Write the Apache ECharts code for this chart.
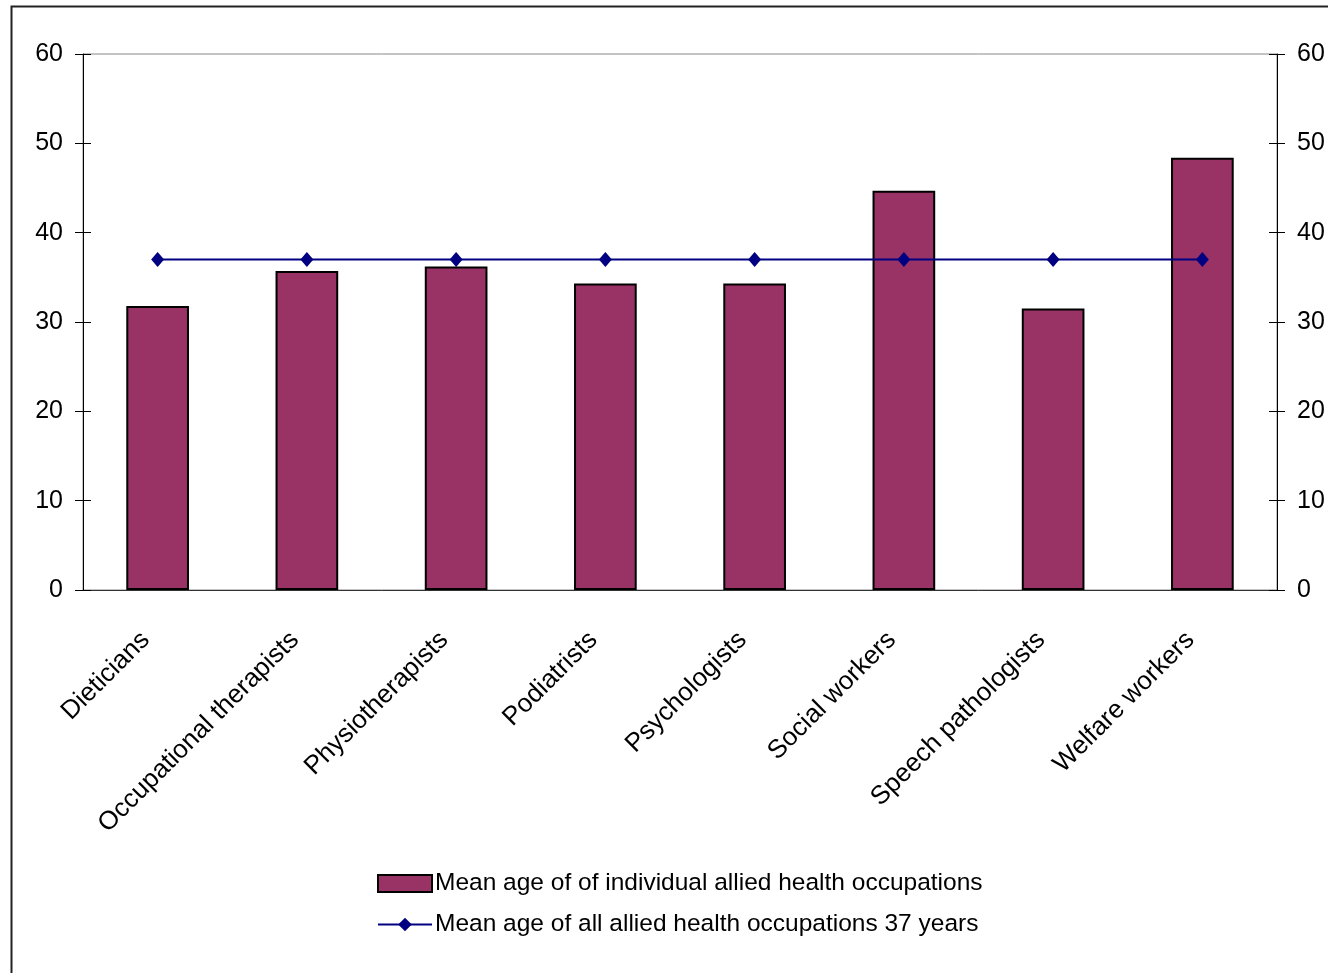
<!DOCTYPE html>
<html style="height: 100%">
<head>
    <meta charset="utf-8">
</head>
<body style="height: 100%; margin: 0">
    <div id="container" style="width: 1328px; height: 973px;"></div>
    <script type="text/javascript" src="https://cdn.jsdelivr.net/npm/echarts@6/dist/echarts.min.js"></script>
    <script type="text/javascript">
        var categories = ['Dieticians', 'Occupational therapists', 'Physiotherapists', 'Podiatrists',
            'Psychologists', 'Social workers', 'Speech pathologists', 'Welfare workers'];
        var meanAgeEach = [31.8, 35.7, 36.2, 34.3, 34.3, 44.7, 31.5, 48.4];
        var meanAgeAll = [37, 37, 37, 37, 37, 37, 37, 37];
        var yMin = 0, yMax = 60, yStep = 10;

        var dom = document.getElementById("container");
        var myChart = echarts.init(dom);
        var font = 'Liberation Sans, Arial, sans-serif';

        function yAxisDef(pos, inside, labels) {
            return {
                type: 'value',
                position: pos,
                min: yMin,
                max: yMax,
                interval: yStep,
                splitLine: { show: false },
                axisLine: { show: !inside, lineStyle: { color: '#000', width: 1 } },
                axisTick: { show: true, inside: inside, length: 8, lineStyle: { color: '#000' } },
                axisLabel: {
                    show: labels, margin: 20, color: '#000', fontSize: 25, fontFamily: font
                }
            };
        }

        var option = {
            animation: false,
            backgroundColor: '#fff',
            grid: {
                left: 83, right: 51, top: 54, bottom: 383,
                show: true, borderColor: '#888', borderWidth: 1
            },
            graphic: [{
                type: 'rect',
                shape: { x: 11.5, y: 6.5, width: 1400, height: 1100 },
                style: { fill: 'none', stroke: '#222', lineWidth: 2 },
                silent: true
            }],
            legend: {
                orient: 'vertical',
                left: 372,
                top: 866,
                itemGap: 16,
                itemWidth: 54,
                itemHeight: 17,
                textStyle: { color: '#000', fontSize: 24.5, fontFamily: font, padding: [0, 0, 0, -2] },
                data: [
                    { name: 'Mean age of of individual allied health occupations', icon: 'rect' },
                    { name: 'Mean age of all allied health occupations 37 years' }
                ]
            },
            xAxis: [{
                type: 'category',
                data: categories,
                axisLine: { lineStyle: { color: '#333', width: 1 } },
                axisTick: { length: 8, lineStyle: { color: '#000' } },
                axisLabel: {
                    rotate: 45, margin: 34, color: '#000', fontSize: 26, fontFamily: font, interval: 0,
                    padding: [0, 17, 0, 0]
                }
            }, {
                type: 'category',
                data: categories,
                position: 'bottom',
                axisLine: { show: false },
                axisTick: { inside: true, length: 8, lineStyle: { color: '#000' } },
                axisLabel: { show: false }
            }],
            yAxis: [
                yAxisDef('left', false, true),
                yAxisDef('right', false, true),
                yAxisDef('left', true, false),
                yAxisDef('right', true, false)
            ],
            series: [
                {
                    name: 'Mean age of of individual allied health occupations',
                    type: 'bar',
                    data: meanAgeEach,
                    barWidth: '42%',
                    itemStyle: { color: '#993366', borderColor: '#000', borderWidth: 2 }
                },
                {
                    name: 'Mean age of all allied health occupations 37 years',
                    type: 'line',
                    data: meanAgeAll,
                    symbol: 'diamond',
                    symbolSize: [13, 15],
                    lineStyle: { color: '#000080', width: 2 },
                    itemStyle: { color: '#000080' }
                }
            ]
        };
        myChart.setOption(option, true);
    </script>
</body>
</html>
